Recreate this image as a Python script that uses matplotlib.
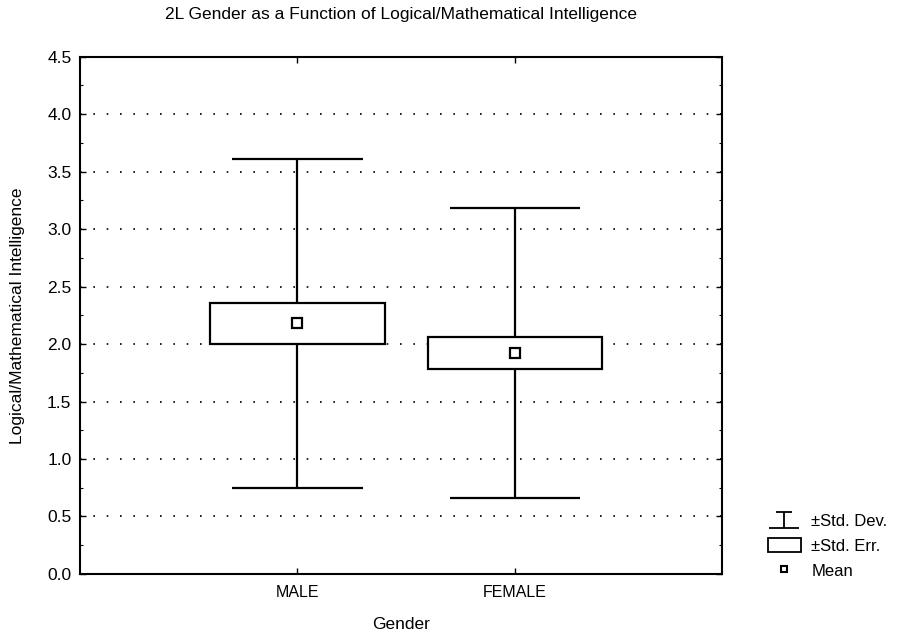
import numpy as np
import matplotlib.pyplot as plt
from matplotlib.lines import Line2D
from matplotlib.patches import Patch
from matplotlib.path import Path

plt.rcParams['font.family'] = ['Liberation Sans', 'DejaVu Sans']

# 数据
groups = ['MALE', 'FEMALE']
means = [2.18, 1.92]
std_err = [0.18, 0.14]
std_dev = [1.43, 1.26]
yticks = [0.0, 0.5, 1.0, 1.5, 2.0, 2.5, 3.0, 3.5, 4.0, 4.5]

pos = np.arange(1, len(groups) + 1)
means = np.array(means)
std_err = np.array(std_err)
std_dev = np.array(std_dev)

fig = plt.figure(figsize=(9.07, 6.37), dpi=100)
ax = fig.add_axes([0.088, 0.099, 0.708, 0.812])

# whiskers (±SD)
ax.vlines(pos, means - std_dev, means + std_dev, color='black', lw=1.6, zorder=2)
ax.hlines(means - std_dev, pos - 0.30, pos + 0.30, color='black', lw=1.6, zorder=2)
ax.hlines(means + std_dev, pos - 0.30, pos + 0.30, color='black', lw=1.6, zorder=2)

# boxes (±SE)
ax.bar(pos, 2 * std_err, bottom=means - std_err, width=0.80,
       facecolor='white', edgecolor='black', linewidth=1.6, zorder=3)

# mean
ax.plot(pos, means, linestyle='none', marker='s', markersize=7,
        markerfacecolor='white', markeredgecolor='black', markeredgewidth=1.6, zorder=4)

ax.set_xlim(0, 2.95)
ax.set_ylim(0, 4.5)
ax.set_yticks(yticks)
ax.set_yticklabels(['%.1f' % v for v in yticks], fontsize=12.5)
ax.set_yticks(np.arange(0, 4.5, 0.25), minor=True)
ax.set_xticks(pos)
ax.set_xticklabels(groups, fontsize=11.5)
ax.yaxis.grid(True, linestyle=(0, (1, 7)), color='black', lw=1.2)
ax.set_axisbelow(True)
ax.tick_params(direction='in', length=4, top=True, right=True, width=1)
ax.tick_params(which='minor', direction='in', length=2, right=True, width=0.8)
ax.tick_params(axis='x', pad=8)
ax.tick_params(axis='y', pad=6)
for s in ax.spines.values():
    s.set_linewidth(1.5)

ax.set_xlabel('Gender', fontsize=12.5, labelpad=12)
ax.set_ylabel('Logical/Mathematical Intelligence', fontsize=12.5, labelpad=16)
ax.set_title('2L Gender as a Function of Logical/Mathematical Intelligence',
             fontsize=12.5, pad=27)

# legend
sd_marker = Path([(-1, -0.5), (1, -0.5), (0, -0.5), (0, 0.5), (-0.5, 0.5), (0.5, 0.5)],
                 [Path.MOVETO, Path.LINETO, Path.MOVETO, Path.LINETO, Path.MOVETO, Path.LINETO])
handles = [
    Line2D([], [], linestyle='none', marker=sd_marker, markersize=22,
           markeredgecolor='black', markerfacecolor='none', markeredgewidth=1.3),
    Patch(facecolor='white', edgecolor='black', linewidth=1.3),
    Line2D([], [], linestyle='none', marker='s', markersize=5,
           markerfacecolor='white', markeredgecolor='black', markeredgewidth=1.5),
]
fig.legend(handles, ['±Std. Dev.', '±Std. Err.', 'Mean'], loc='lower left',
           bbox_to_anchor=(0.83, 0.068), frameon=False, fontsize=12,
           handlelength=2.0, handleheight=0.9, labelspacing=0.55, handletextpad=0.6)

plt.savefig('out.png', dpi=100)
